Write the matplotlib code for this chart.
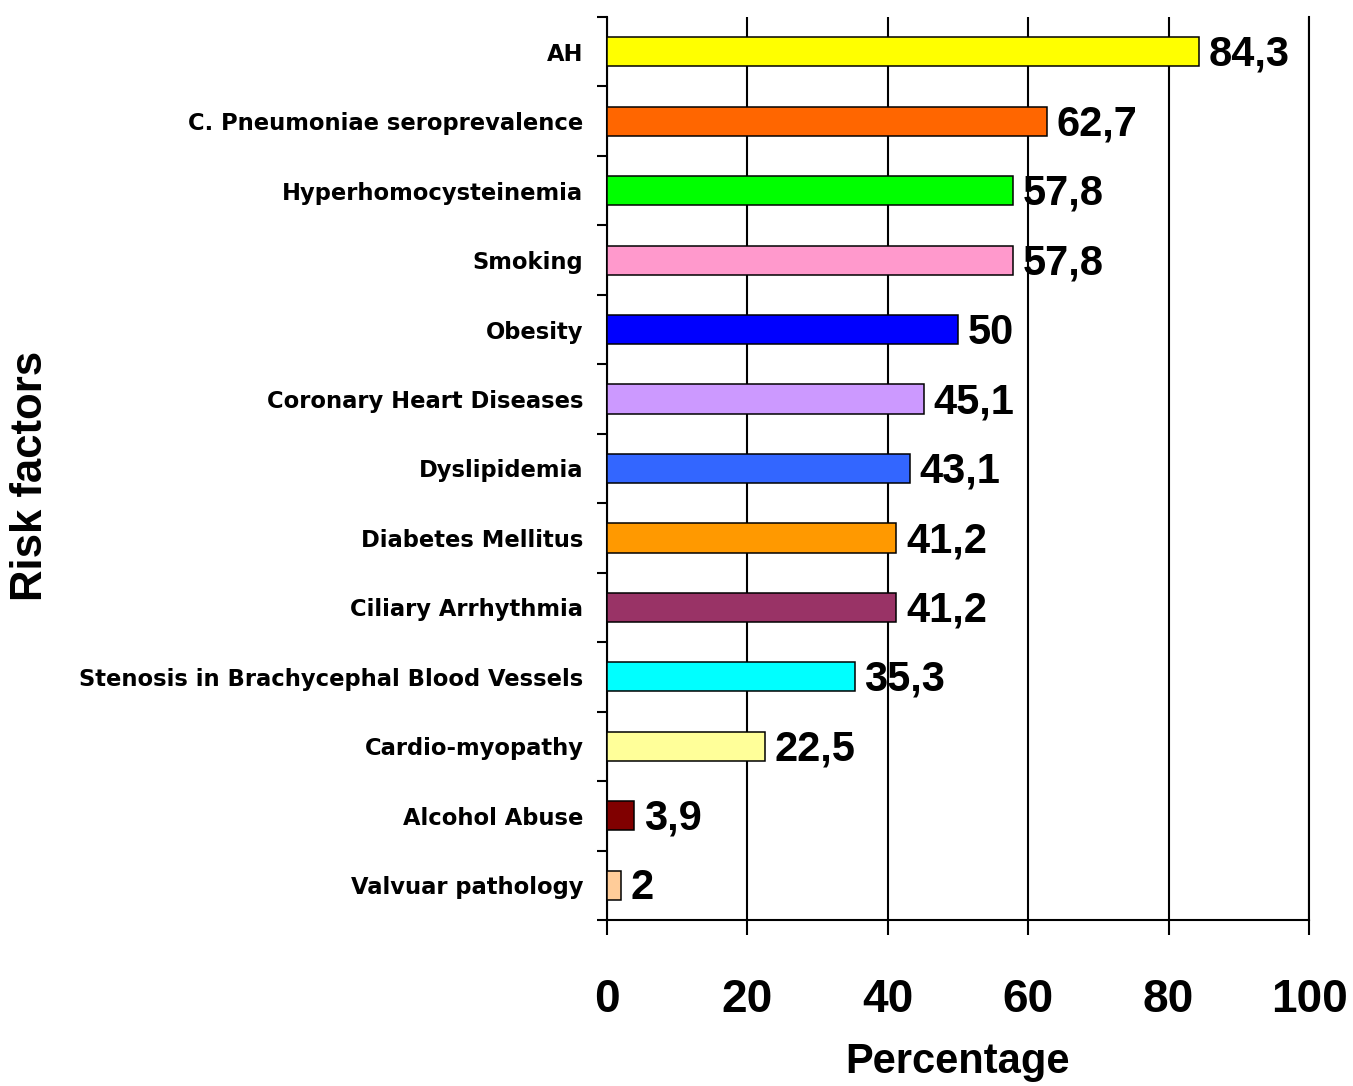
import matplotlib
matplotlib.use("Agg")
import matplotlib.pyplot as plt
from matplotlib.ticker import FixedLocator

# Risk factors, top to bottom
factors = [
    "AH",
    "C. Pneumoniae seroprevalence",
    "Hyperhomocysteinemia",
    "Smoking",
    "Obesity",
    "Coronary Heart Diseases",
    "Dyslipidemia",
    "Diabetes Mellitus",
    "Ciliary Arrhythmia",
    "Stenosis in Brachycephal Blood Vessels",
    "Cardio-myopathy",
    "Alcohol Abuse",
    "Valvuar pathology",
]
percentages = [84.3, 62.7, 57.8, 57.8, 50, 45.1, 43.1, 41.2, 41.2, 35.3, 22.5, 3.9, 2]
bar_colors = [
    "#FFFF00", "#FF6600", "#00FF00", "#FF99CC", "#0000FF", "#CC99FF", "#3366FF",
    "#FF9900", "#993366", "#00FFFF", "#FFFF99", "#800000", "#FFCC99",
]
x_ticks = [0, 20, 40, 60, 80, 100]

label_font = "DejaVu Sans"
num_font = "Liberation Sans"

fig = plt.figure(figsize=(13.53, 10.86), dpi=100)
ax = fig.add_axes([607 / 1353, 1 - 920 / 1086, (1309 - 607) / 1353, (920 - 17) / 1086])

ypos = list(range(len(factors)))
ax.barh(ypos, percentages, height=0.42, color=bar_colors,
        edgecolor="black", linewidth=1.1, zorder=3)

# value labels beside each bar
for y, v in zip(ypos, percentages):
    txt = f"{v:g}".replace(".", ",")
    ax.annotate(txt, xy=(v, y), xytext=(7, 1), textcoords="offset points",
                ha="left", va="center_baseline", fontsize=30, fontweight="bold",
                family=num_font, zorder=4)

ax.set_xlim(0, 100)
ax.set_ylim(len(factors) - 0.5, -0.5)

# category labels at bar centres, tick marks at category boundaries
ax.set_yticks(ypos)
ax.set_yticklabels(factors, family=label_font, fontweight="bold", fontsize=16.3)
ax.tick_params(axis="y", which="major", length=0, pad=17)
ax.yaxis.set_minor_locator(FixedLocator([i - 0.5 for i in range(len(factors) + 1)]))
ax.tick_params(axis="y", which="minor", length=7, width=1.5, direction="out")

ax.set_xticks(x_ticks)
ax.set_xticklabels([str(t) for t in x_ticks], family=num_font,
                   fontweight="bold", fontsize=33)
ax.tick_params(axis="x", length=11, width=1.5, direction="out", pad=31)

ax.xaxis.grid(True, color="black", linewidth=1.5, zorder=0)
ax.set_axisbelow(True)

ax.spines["top"].set_visible(False)
for side in ("left", "bottom", "right"):
    ax.spines[side].set_linewidth(1.5)
    ax.spines[side].set_color("black")

fig.text(958 / 1353, 1 - 1062 / 1086, "Percentage", ha="center", va="center",
         family=num_font, fontweight="bold", fontsize=30)
fig.text(31 / 1353, 1 - 476 / 1086, "Risk factors", ha="center", va="center",
         rotation=90, family=num_font, fontweight="bold", fontsize=31.5)

fig.savefig("out.png", dpi=100, facecolor="white")
